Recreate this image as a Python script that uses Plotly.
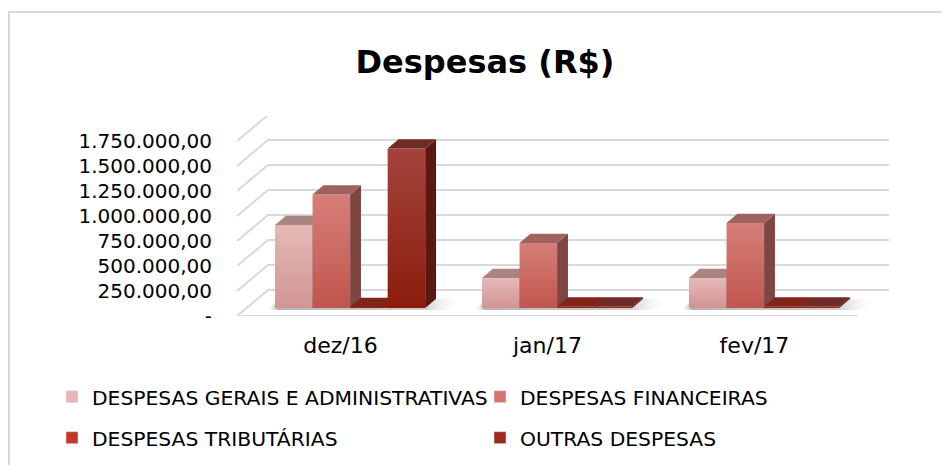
import plotly.graph_objects as go

# ---------------- data ----------------
categories = ["dez/16", "jan/17", "fev/17"]
series_names = [
    "DESPESAS GERAIS E ADMINISTRATIVAS",
    "DESPESAS FINANCEIRAS",
    "DESPESAS TRIBUTÁRIAS",
    "OUTRAS DESPESAS",
]
gerais = [830000, 300000, 300000]
financeiras = [1135000, 650000, 850000]
tributarias = [10000, 15000, 15000]
outras = [1595000, 15000, 15000]
y_tick_values = [0, 250000, 500000, 750000, 1000000, 1250000, 1500000, 1750000]
y_tick_labels = ["-", "250.000,00", "500.000,00", "750.000,00", "1.000.000,00",
                 "1.250.000,00", "1.500.000,00", "1.750.000,00"]

series_values = [gerais, financeiras, tributarias, outras]

# ---------------- styles ----------------
# (front bottom, front top, top face, side face, legend colour)
styles = [
    ("#d09593", "#e6b9b7", "#a98483", "#8a6462", "#e6b4b3"),
    ("#c0564e", "#d67e78", "#a0625e", "#7e4642", "#d6746f"),
    ("#86200f", "#9a3327", "#7f2416", "#4c150d", "#c0392b"),
    ("#8a1c0c", "#a4443c", "#6f2c24", "#5a1810", "#9c2b22"),
]

DX = 0.15          # depth offset along x (axis units)
DY = 260000        # depth offset along y (axis units)
F0, F1 = 0.31, 0.66  # bar depth position (fraction of floor depth)
W = 0.1814         # bar width (axis units)
GRID = "#d9d9d9"
FONT = "DejaVu Sans"

fig = go.Figure()


def shift(x, y, f):
    return x + f * DX, y + f * DY


def poly(points):
    pts = points + [points[0]]
    return [a for a, b in pts], [b for a, b in pts]


# back wall + left wall grid lines
for v in y_tick_values:
    xb, yb = shift(-0.5, v, 1)
    xe, ye = shift(2.5, v, 1)
    fig.add_trace(go.Scatter(x=[-0.5, xb, xe], y=[v, yb, ye], mode="lines",
                             line=dict(color=GRID, width=2),
                             hoverinfo="skip", showlegend=False))
# floor front edge
fig.add_trace(go.Scatter(x=[-0.5, 2.5], y=[0, 0], mode="lines",
                         line=dict(color=GRID, width=2),
                         hoverinfo="skip", showlegend=False))

n_series = len(series_values)

# soft floor shadows under each group
for i, cat in enumerate(categories):
    gl = i - n_series * W / 2 - 0.03
    gr = i + n_series * W / 2 + 0.13
    xs, ys = poly([shift(gl, 0, F0 - 0.08), shift(gr, 0, F0 - 0.08),
                   shift(gr, 0, F1), shift(gl, 0, F1)])
    fig.add_trace(go.Scatter(x=xs, y=ys, mode="lines", fill="toself",
                             line=dict(width=0, color="rgba(0,0,0,0)"),
                             fillgradient=dict(type="horizontal",
                                               colorscale=[[0, "rgba(255,255,255,0)"],
                                                           [0.06, "rgba(120,120,120,0.55)"],
                                                           [0.8, "rgba(150,150,150,0.45)"],
                                                           [1, "rgba(255,255,255,0)"]]),
                             hoverinfo="skip", showlegend=False))

# bars (3D faces), drawn left to right
for i, cat in enumerate(categories):
    for s, vals in enumerate(series_values):
        v = vals[i]
        fb, ft, topc, sidec, _ = styles[s]
        xl = i - n_series * W / 2 + s * W
        xr = xl + W
        # front face
        xs, ys = poly([shift(xl, 0, F0), shift(xr, 0, F0), shift(xr, v, F0), shift(xl, v, F0)])
        fig.add_trace(go.Scatter(x=xs, y=ys, mode="lines",
                                 fill="toself", line=dict(width=0, color=fb),
                                 fillgradient=dict(type="vertical",
                                                   colorscale=[[0, fb], [1, ft]]),
                                 hoverinfo="skip", showlegend=False))
        # side face
        xs, ys = poly([shift(xr, 0, F0), shift(xr, 0, F1), shift(xr, v, F1), shift(xr, v, F0)])
        fig.add_trace(go.Scatter(x=xs, y=ys, mode="lines",
                                 fill="toself", fillcolor=sidec, line=dict(width=0, color=sidec),
                                 hoverinfo="skip", showlegend=False))
        # top face
        xs, ys = poly([shift(xl, v, F0), shift(xr, v, F0), shift(xr, v, F1), shift(xl, v, F1)])
        fig.add_trace(go.Scatter(x=xs, y=ys, mode="lines",
                                 fill="toself", fillcolor=topc, line=dict(width=0, color=topc),
                                 hoverinfo="skip", showlegend=False))

# legend entries
for s, name in enumerate(series_names):
    fig.add_trace(go.Bar(x=[None], y=[None], name=name,
                         marker=dict(color=styles[s][4]),
                         legend="legend" if s < 2 else "legend2"))

# the page body adds an 8 px offset, so the figure is laid out 8 px up/left
OFF = 8
L, R, T, B = 237 - OFF, 889 - OFF, 116 - OFF, 316 - OFF
FIG_W, FIG_H = 950, 465


def px_x(px):
    return (px - L) / (R - L)


def px_y(py):
    return (B - py) / (B - T)


legend_common = dict(orientation="h", xanchor="left", yanchor="middle",
                     font=dict(family=FONT, size=20.3, color="#000000"),
                     entrywidth=383, entrywidthmode="pixels",
                     bgcolor="rgba(0,0,0,0)", itemclick=False, itemdoubleclick=False,
                     traceorder="normal")

fig.update_layout(
    width=FIG_W, height=FIG_H,
    margin=dict(l=L, r=FIG_W - R, t=T, b=FIG_H - B, autoexpand=False),
    paper_bgcolor="white", plot_bgcolor="white",
    showlegend=True,
    title=dict(text="<b>Despesas (R$)</b>", x=(485 - OFF) / FIG_W, xref="container",
               y=1 - (62 - OFF) / FIG_H, yref="container", xanchor="center", yanchor="middle",
               font=dict(family=FONT, size=32, color="#000000")),
    xaxis=dict(range=[-0.5, 2.5 + DX], showgrid=False, zeroline=False, showline=False,
               tickmode="array", tickvals=list(range(len(categories))), ticktext=categories,
               ticks="", ticklabelstandoff=14, automargin=False,
               tickfont=dict(family=FONT, size=22, color="#000000"), fixedrange=True),
    yaxis=dict(range=[0, 2000000], showgrid=False, zeroline=False, showline=False,
               tickmode="array", tickvals=y_tick_values, ticktext=y_tick_labels,
               ticks="", ticklabelstandoff=24, automargin=False,
               tickfont=dict(family=FONT, size=20, color="#000000"), fixedrange=True),
    legend=dict(x=px_x(44), y=px_y(389), **legend_common),
    legend2=dict(x=px_x(44), y=px_y(430), **legend_common),
    shapes=[dict(type="rect", xref="paper", yref="paper",
                 x0=px_x(1), x1=px_x(980), y0=px_y(500), y1=px_y(4),
                 line=dict(color="#d9d9d9", width=2), fillcolor="rgba(0,0,0,0)",
                 layer="below")],
)

fig.write_html("out.html")
